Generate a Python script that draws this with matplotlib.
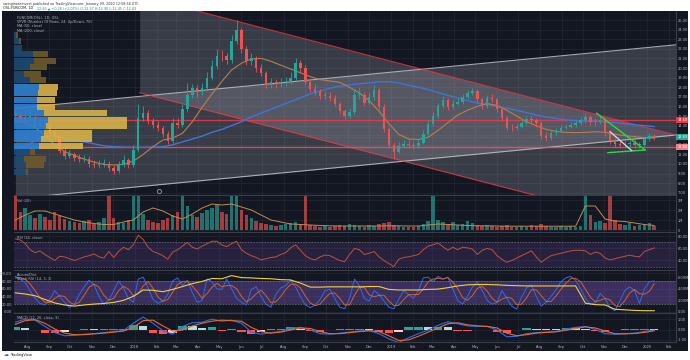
import pandas as pd
import matplotlib
matplotlib.use("Agg")
import matplotlib.pyplot as plt
import matplotlib.dates as mdates
import matplotlib.transforms as mtrans
from matplotlib.ticker import FuncFormatter

plt.rcParams['font.family'] = ['DejaVu Sans']

# === Data (weekly candles, OSL:FUNCOM) ===
weeks = pd.date_range("2017-07-15", periods=131, freq="7D")
weeks2 = weeks[::2]  # smoother lines read every two weeks

opens = [15.3, 15.0, 14.6, 14.9, 14.9, 14.0, 14.5, 13.9, 13.3, 12.9,
         11.4, 10.8, 11.0, 10.6, 10.5, 10.5, 10.0, 9.9, 10.0, 10.0,
         9.6, 9.3, 9.9, 10.4, 9.9, 11.5, 14.8, 15.3, 14.5, 14.1,
         13.7, 13.1, 12.4, 14.3, 14.1, 15.7, 17.2, 17.9, 17.5, 17.9,
         19.0, 20.2, 21.3, 21.2, 20.8, 22.8, 24.0, 22.0, 20.7, 21.0,
         20.0, 19.5, 18.2, 18.5, 18.3, 18.5, 18.5, 19.0, 20.5, 20.0,
         18.5, 17.8, 17.5, 17.1, 17.1, 16.9, 16.3, 15.5, 15.0, 15.4,
         17.2, 17.2, 16.4, 17.0, 17.7, 15.9, 13.6, 12.0, 11.3, 11.9,
         12.1, 12.0, 11.9, 12.2, 13.1, 14.2, 15.0, 16.0, 16.7, 15.9,
         16.3, 16.5, 17.0, 17.4, 17.6, 16.8, 16.0, 16.9, 16.8, 15.7,
         14.8, 13.8, 13.7, 13.9, 14.3, 14.7, 14.6, 14.3, 12.9, 12.7,
         13.2, 13.4, 13.8, 13.9, 14.1, 14.3, 14.6, 14.9, 14.4, 14.4,
         14.6, 13.2, 12.4, 12.1, 12.0, 12.1, 12.2, 12.0, 12.0, 12.6,
         12.9]
highs = [15.8, 15.4, 15.3, 15.4, 15.2, 14.8, 14.8, 14.3, 13.6, 13.2,
         11.9, 11.5, 11.3, 11.0, 10.9, 10.8, 10.4, 10.4, 10.5, 10.3,
         9.9, 10.3, 10.9, 10.6, 12.0, 16.2, 16.0, 15.6, 14.8, 14.5,
         14.0, 13.4, 14.8, 14.8, 16.2, 18.4, 18.3, 18.2, 18.4, 19.6,
         20.8, 22.0, 21.9, 21.6, 23.4, 25.0, 24.2, 22.3, 21.6, 21.2,
         20.4, 19.7, 19.0, 18.9, 19.0, 19.1, 19.6, 21.0, 20.8, 20.3,
         18.8, 18.3, 17.8, 17.6, 17.5, 17.2, 16.5, 15.7, 15.8, 17.8,
         18.0, 17.5, 17.5, 18.2, 17.9, 16.2, 13.9, 12.3, 12.3, 12.5,
         12.5, 12.3, 12.5, 13.5, 14.6, 15.4, 16.4, 17.1, 16.9, 16.7,
         16.9, 17.3, 17.7, 17.9, 17.8, 16.9, 17.2, 17.3, 16.9, 15.9,
         15.0, 14.2, 14.2, 14.6, 15.0, 15.0, 14.8, 14.5, 13.3, 13.5,
         13.7, 14.1, 14.2, 14.4, 14.6, 14.9, 15.3, 15.1, 14.8, 15.0,
         14.8, 13.5, 12.7, 12.4, 12.4, 12.5, 12.5, 12.3, 12.9, 13.2,
         13.1]
lows = [14.6, 14.3, 14.3, 14.5, 13.7, 13.8, 13.6, 13.0, 12.6, 11.1,
        10.5, 10.6, 10.3, 10.2, 10.2, 9.7, 9.6, 9.6, 9.7, 9.3,
        9.0, 9.1, 9.7, 9.6, 9.7, 11.2, 14.5, 14.2, 13.8, 13.4,
        12.8, 12.1, 12.2, 13.8, 13.9, 15.4, 16.9, 17.0, 17.2, 17.6,
        18.8, 19.9, 20.7, 20.4, 20.5, 22.5, 21.6, 20.3, 20.3, 19.6,
        19.2, 17.9, 17.9, 17.9, 18.0, 18.1, 18.3, 18.8, 19.6, 18.2,
        17.5, 17.2, 16.8, 16.8, 16.6, 16.0, 15.2, 14.7, 14.8, 15.2,
        16.8, 16.1, 16.2, 16.7, 15.6, 13.3, 11.7, 10.5, 11.1, 11.7,
        11.7, 11.6, 11.7, 12.1, 13.0, 14.0, 14.8, 15.8, 15.6, 15.7,
        16.1, 16.3, 16.8, 17.2, 16.5, 15.7, 15.8, 16.5, 15.4, 14.5,
        13.5, 13.4, 13.5, 13.7, 14.1, 14.3, 13.9, 12.6, 12.4, 12.5,
        13.0, 13.2, 13.6, 13.7, 13.9, 14.1, 14.3, 14.1, 14.1, 14.2,
        12.9, 12.1, 11.8, 11.7, 11.8, 11.8, 11.7, 11.7, 11.8, 12.4,
        12.5]
closes = [15.0, 14.6, 14.9, 14.9, 14.0, 14.5, 13.9, 13.3, 12.9, 11.4,
          10.8, 11.0, 10.6, 10.5, 10.5, 10.0, 9.9, 10.0, 10.0, 9.6,
          9.3, 9.9, 10.4, 9.9, 11.5, 14.8, 15.3, 14.5, 14.1, 13.7,
          13.1, 12.4, 14.3, 14.1, 15.7, 17.2, 17.9, 17.5, 17.9, 19.0,
          20.2, 21.3, 21.2, 20.8, 22.8, 24.0, 22.0, 20.7, 21.0, 20.0,
          19.5, 18.2, 18.5, 18.3, 18.5, 18.5, 19.0, 20.5, 20.0, 18.5,
          17.8, 17.5, 17.1, 17.1, 16.9, 16.3, 15.5, 15.0, 15.4, 17.2,
          17.2, 16.4, 17.0, 17.7, 15.9, 13.6, 12.0, 11.3, 11.9, 12.1,
          12.0, 11.9, 12.2, 13.1, 14.2, 15.0, 16.0, 16.7, 15.9, 16.3,
          16.5, 17.0, 17.4, 17.6, 16.8, 16.0, 16.9, 16.8, 15.7, 14.8,
          13.8, 13.7, 13.9, 14.3, 14.7, 14.6, 14.3, 12.9, 12.7, 13.2,
          13.4, 13.8, 13.9, 14.1, 14.3, 14.6, 14.9, 14.4, 14.4, 14.6,
          13.2, 12.4, 12.1, 12.0, 12.1, 12.2, 12.0, 12.0, 12.6, 12.9,
          12.83]
volume_m = [3.5, 1.8, 2.2, 1.5, 1.2, 1.6, 1.3, 1.0, 1.8, 1.4,
            1.1, 0.9, 0.8, 0.7, 0.9, 1.0, 0.6, 0.8, 1.2, 3.5,
            1.2, 0.8, 0.7, 1.0, 3.5, 3.5, 1.6, 1.0, 0.8, 0.7,
            1.0, 1.2, 1.5, 1.8, 3.5, 2.4, 1.5, 1.3, 1.7, 2.0,
            2.2, 2.5, 1.8, 1.6, 3.5, 3.5, 2.0, 1.5, 1.2, 0.9,
            0.7, 0.6, 0.5, 0.4, 0.5, 0.6, 0.7, 0.8, 0.6, 3.5,
            0.5, 0.4, 0.3, 0.4, 0.3, 0.4, 0.5, 0.4, 0.6, 0.5,
            0.4, 0.3, 0.5, 0.4, 0.6, 0.7, 0.8, 0.5, 0.4, 0.3,
            0.3, 0.3, 0.4, 0.6, 0.9, 3.5, 1.0, 0.8, 0.6, 0.8,
            0.5, 0.6, 0.9, 0.7, 0.5, 0.4, 0.5, 0.4, 0.3, 0.4,
            0.5, 0.3, 0.3, 0.4, 0.3, 0.5, 0.4, 0.6, 0.4, 0.3,
            0.3, 0.4, 0.3, 0.4, 0.3, 0.4, 3.5, 1.5, 0.8, 0.9,
            0.7, 3.5, 1.0, 0.6, 0.5, 0.7, 0.4, 0.5, 0.6, 0.7,
            0.4]
rsi = [76, 74, 68, 58, 53, 56, 50, 45, 40, 47,
       46, 43, 40, 43, 46, 48, 51, 46, 44, 55,
       45, 55, 62, 58, 66, 82, 75, 62, 55, 52,
       48, 42, 54, 58, 64, 70, 62, 59, 64, 68,
       72, 72, 66, 63, 68, 72, 58, 52, 48, 45,
       41, 43, 45, 46, 50, 53, 61, 66, 57, 48,
       43, 41, 46, 49, 48, 44, 40, 38, 50, 60,
       58, 50, 52, 55, 46, 40, 35, 30, 42, 45,
       46, 48, 50, 58, 64, 66, 69, 63, 57, 62,
       58, 62, 61, 59, 50, 57, 60, 58, 48, 42,
       37, 40, 44, 48, 52, 56, 46, 37, 43, 48,
       50, 52, 54, 56, 57, 57, 56, 50, 54, 52,
       44, 41, 43, 45, 47, 49, 47, 46, 55, 58,
       61]
stoch_k = [92, 85, 75, 55, 35, 22, 18, 32, 55, 40,
           25, 11, 20, 45, 65, 82, 70, 40, 20, 30,
           55, 80, 62, 35, 25, 85, 90, 62, 32, 22,
           28, 45, 80, 88, 68, 82, 50, 25, 30, 85,
           78, 60, 58, 85, 60, 35, 25, 18, 58, 65,
           40, 20, 12, 45, 62, 68, 82, 65, 40, 18,
           11, 18, 32, 55, 58, 35, 12, 8, 35, 85,
           68, 35, 28, 55, 45, 28, 12, 8, 32, 55,
           45, 35, 55, 88, 90, 78, 92, 85, 90, 60,
           30, 20, 40, 65, 78, 55, 30, 20, 24, 55,
           35, 15, 7, 38, 62, 70, 40, 15, 25, 40,
           57, 78, 88, 92, 82, 60, 35, 20, 23, 48,
           35, 10, 3, 28, 55, 65, 55, 22, 60, 78,
           80]
stoch_d = [88, 89, 84, 72, 55, 37, 25, 24, 35, 42,
           40, 25, 19, 25, 43, 64, 72, 64, 43, 30,
           35, 55, 66, 59, 41, 48, 67, 79, 61, 39,
           27, 32, 51, 71, 79, 79, 67, 52, 35, 47,
           64, 74, 65, 68, 68, 60, 40, 26, 34, 47,
           56, 42, 24, 26, 40, 58, 71, 72, 62, 41,
           23, 16, 20, 35, 48, 49, 35, 18, 18, 43,
           63, 63, 44, 39, 43, 43, 28, 16, 17, 32,
           44, 45, 45, 59, 78, 85, 87, 85, 89, 78,
           60, 37, 30, 42, 61, 66, 54, 35, 25, 33,
           38, 35, 19, 20, 36, 57, 57, 42, 27, 27,
           41, 58, 74, 86, 87, 78, 59, 38, 26, 30,
           35, 31, 16, 14, 29, 49, 58, 47, 46, 53,
           73]

sma200 = [11.5, 11.9, 12.4, 12.9, 12.9, 12.7, 12.5, 12.3, 12.1, 11.9,
          11.8, 11.75, 11.74, 11.74, 11.76, 11.8, 12.0, 12.3, 12.6, 12.9,
          13.3, 13.6, 14.0, 14.4, 14.9, 15.3, 15.7, 16.1, 16.5, 16.9,
          17.3, 17.6, 17.9, 18.1, 18.25, 18.35, 18.45, 18.55, 18.58, 18.45,
          18.2, 18.0, 17.75, 17.45, 17.15, 16.9, 16.6, 16.35, 16.2, 16.0,
          15.8, 15.6, 15.35, 15.1, 14.9, 14.75, 14.6, 14.52, 14.48, 14.45,
          14.38, 14.3, 14.2, 14.1, 14.0, 13.9]
sma50 = [14.5, 14.3, 13.8, 13.0, 12.0, 11.3, 10.9, 10.5, 10.2, 9.95,
         9.9, 9.95, 10.3, 11.0, 11.8, 12.5, 12.7, 13.2, 14.4, 15.9,
         17.3, 18.6, 19.8, 20.5, 20.95, 21.0, 20.7, 20.3, 19.9, 19.5,
         19.1, 18.8, 18.65, 18.5, 18.0, 17.4, 16.6, 15.5, 14.2, 13.1,
         12.6, 12.55, 12.8, 13.5, 14.3, 15.1, 15.6, 16.0, 16.3, 16.1,
         15.6, 15.0, 14.4, 14.0, 13.6, 13.4, 13.3, 13.26, 13.3, 13.36,
         13.3, 13.1, 12.95, 12.85, 12.75, 12.7]
vol_ma = [1.0, 1.5, 1.9, 1.9, 1.6, 1.3, 1.0, 0.8, 0.65, 0.55,
          0.55, 0.8, 1.0, 1.8, 2.2, 1.9, 1.4, 1.1, 1.6, 2.2,
          2.6, 2.5, 2.6, 2.3, 2.0, 1.5, 1.0, 0.8, 0.6, 0.55,
          0.5, 0.45, 0.42, 0.4, 0.4, 0.4, 0.4, 0.4, 0.42, 0.42,
          0.4, 0.4, 0.5, 0.6, 0.55, 0.5, 0.45, 0.42, 0.42, 0.4,
          0.38, 0.38, 0.38, 0.38, 0.38, 0.38, 0.38, 0.38, 2.4, 2.4,
          1.1, 0.9, 0.85, 0.7, 0.55, 0.45]
accum_dist = [3.3, 3.1, 2.8, 2.15, 1.55, 1.2, 1.0, 1.2, 1.35, 1.45,
              1.65, 2.0, 2.7, 3.8, 3.75, 3.5, 3.9, 4.4, 4.9, 5.3,
              5.8, 5.75, 6.3, 5.95, 5.9, 5.8, 5.75, 5.6, 5.55, 5.0,
              4.3, 4.3, 4.35, 4.35, 4.35, 4.35, 4.4, 4.4, 3.9, 3.8,
              3.8, 3.8, 3.9, 3.95, 4.2, 4.5, 4.7, 4.75, 4.75, 4.7,
              4.6, 4.55, 4.5, 4.5, 4.5, 4.5, 4.5, 4.5, 1.5, 1.25,
              1.2, 0.45, 0.35, 0.25, 0.2, 0.2]
macd_line = [0.7, 1.0, 0.9, 0.3, -0.3, -0.6, -0.55, -0.45, -0.4, -0.3,
             -0.2, -0.1, 0.6, 1.2, 0.6, -0.1, -0.45, 0.3, 0.65, 0.7,
             1.0, 0.8, 0.9, 0.6, -0.25, -0.45, -0.3, -0.2, 0.15, 0.2,
             -0.05, -0.4, -0.45, -0.35, -0.25, -0.15, -0.1, -0.4, -0.9, -1.25,
             -0.8, -0.4, -0.05, 0.4, 0.75, 0.55, 0.35, 0.3, 0.3, -0.05,
             -0.7, -0.65, -0.4, -0.3, -0.25, -0.2, 0.05, 0.2, 0.3, 0.0,
             -0.4, -0.45, -0.4, -0.35, -0.2, -0.05]
macd_signal = [0.5, 0.85, 0.95, 0.6, 0.05, -0.35, -0.5, -0.5, -0.42, -0.35,
               -0.25, -0.15, 0.2, 0.85, 0.9, 0.35, -0.15, -0.05, 0.35, 0.6,
               0.8, 0.9, 0.85, 0.8, 0.2, -0.2, -0.35, -0.25, -0.05, 0.15,
               0.1, -0.2, -0.4, -0.4, -0.3, -0.2, -0.12, -0.2, -0.6, -1.05,
               -1.0, -0.65, -0.25, 0.15, 0.55, 0.65, 0.45, 0.35, 0.3, 0.15,
               -0.35, -0.6, -0.5, -0.35, -0.28, -0.22, -0.08, 0.1, 0.25, 0.15,
               -0.15, -0.4, -0.42, -0.38, -0.28, -0.12]
macd_hist = [0.2, 0.15, -0.05, -0.3, -0.35, -0.25, -0.05, 0.05, 0.02, 0.05,
             0.05, 0.05, 0.4, 0.35, -0.3, -0.45, -0.3, 0.35, 0.3, 0.1,
             0.2, -0.1, 0.05, -0.2, -0.45, -0.25, 0.05, 0.05, 0.2, 0.05,
             -0.15, -0.2, -0.05, 0.05, 0.05, 0.05, 0.02, -0.2, -0.3, -0.2,
             0.2, 0.25, 0.2, 0.25, 0.2, -0.1, -0.1, -0.05, 0.0, -0.2,
             -0.35, -0.05, 0.1, 0.05, 0.03, 0.02, 0.13, 0.1, 0.05, -0.15,
             -0.25, -0.05, 0.02, 0.03, 0.08, 0.07]

# volume profile (VPVR), rows from the bottom price bin up
vp_bottom = 8.85
vp_step = 0.68
vp_up = [11.9, 11.9, 9.7, 16.3, 25.0, 27.3, 29.5, 31.7, 33.9, 29.5, 22.9,
         22.9, 24.2, 25.1, 16.3, 9.7, 16.3, 19.8, 18.5, 7.5, 5.3, 2.2]
vp_down = [2.2, 17.6, 22.0, 4.4, 44.0, 50.7, 48.5, 81.5, 79.3, 63.9, 17.6,
           17.6, 18.5, 18.9, 15.4, 17.6, 16.7, 22.0, 15.4, 0.5, 2.2, 1.8]
vp_value_area = (4, 13)

# drawn levels and trend channels
level_hi = 14.60
level_lo = 11.80
desc_dates = pd.to_datetime(["2018-01-08", "2020-02-11"])
desc_top = [27.5, 13.0]
desc_bot = [17.43, 2.93]
asc_dates = pd.to_datetime(["2017-07-15", "2020-02-11"])
asc_top = [15.8, 22.42]
asc_bot = [6.40, 13.02]
wedge_top = (pd.to_datetime(["2019-10-21", "2019-12-29"]), [15.28, 11.46])
wedge_bot = (pd.to_datetime(["2019-11-06", "2019-12-29"]), [11.18, 11.46])
wedge_mid = (pd.to_datetime(["2019-11-09", "2019-12-10"]), [13.36, 11.39])

# === Style ===
BG = '#131722'
GRID = '#232733'
TXT = '#b2b5be'
UP = '#26a69a'
DOWN = '#ef5350'
SEP = '#3a3e4a'

fig = plt.figure(figsize=(6.9, 3.6), dpi=100, facecolor='white')
fig.patches.append(plt.Rectangle((2 / 690, 9 / 360), 686 / 690, 340 / 360,
                                 transform=fig.transFigure, facecolor=BG,
                                 edgecolor='none', zorder=-10))


def pane(top, bottom, share=None):
    ax = fig.add_axes([14 / 690, 1 - bottom / 360, 662 / 690, (bottom - top) / 360],
                      sharex=share)
    ax.set_facecolor(BG)
    ax.spines['left'].set_visible(False)
    ax.spines['top'].set_visible(False)
    for s in ['right', 'bottom']:
        ax.spines[s].set_color(SEP)
        ax.spines[s].set_linewidth(0.8)
    ax.yaxis.tick_right()
    ax.tick_params(axis='both', length=0, labelsize=2.6, labelcolor=TXT, pad=1.5)
    ax.grid(True, color=GRID, lw=0.5)
    ax.set_axisbelow(True)
    return ax


ax_p = pane(11, 195)
ax_v = pane(196, 232, ax_p)
ax_r = pane(233, 270, ax_p)
ax_s = pane(271, 313, ax_p)
ax_m = pane(314, 342, ax_p)

# --- price pane ---
ax_p.fill_between(asc_dates, asc_bot, asc_top, color='#b2b5be', alpha=0.24, lw=0, zorder=1)
ax_p.fill_between(desc_dates, desc_bot, desc_top, color='#b2b5be', alpha=0.24, lw=0, zorder=1)
ax_p.plot(asc_dates, asc_top, color='#c8cad0', lw=0.8, alpha=0.8, zorder=2)
ax_p.plot(asc_dates, asc_bot, color='#c8cad0', lw=0.8, alpha=0.8, zorder=2)
ax_p.plot(desc_dates, desc_top, color='#f23645', lw=0.8, alpha=0.8, zorder=2)
ax_p.plot(desc_dates, desc_bot, color='#f23645', lw=0.8, alpha=0.8, zorder=2)

ax_p.axhline(level_hi, color='#f23645', lw=1.0, alpha=0.85, zorder=3)
ax_p.axhline(level_lo, color='#f7525f', lw=1.0, alpha=0.8, zorder=3)
ax_p.axhline(closes[-1], color=UP, lw=0.5, ls=':', alpha=0.6, zorder=3)

ax_p.plot(weeks2, sma200, color='#3f74d8', lw=1.0, zorder=4)
ax_p.plot(weeks2, sma50, color='#b5804e', lw=0.8, zorder=4)

cols = [UP if c >= o else DOWN for o, c in zip(opens, closes)]
body_lo = [min(o, c) for o, c in zip(opens, closes)]
body_h = [max(abs(c - o), 0.08) for o, c in zip(opens, closes)]
ax_p.vlines(weeks, lows, highs, colors=cols, lw=0.6, zorder=5)
ax_p.bar(weeks, body_h, bottom=body_lo, width=3.5, color=cols, lw=0, zorder=6)

for (dx, dy), c in [(wedge_top, '#22e040'), (wedge_bot, '#22e040'), (wedge_mid, '#d1d4dc')]:
    ax_p.plot(dx, dy, color=c, lw=1.0, zorder=7)

ax_p.plot(pd.Timestamp("2018-02-05"), 7.22, marker='o', ms=3, mfc='none',
          mec=TXT, mew=0.5, zorder=7)

ax_p.set_ylim(6.77, 25.94)
ax_p.set_yticks(range(7, 26))
ax_p.yaxis.set_major_formatter(FuncFormatter(lambda v, p: f"{v:.2f}"))

# volume profile on a twin axis anchored to the left edge
ax_vp = ax_p.twiny()
ax_vp.set_xlim(0, 662)
ax_vp.axis('off')
for k, (u, d) in enumerate(zip(vp_up, vp_down)):
    inside = vp_value_area[0] <= k <= vp_value_area[1]
    yc = vp_bottom + vp_step * (k + 0.5)
    ax_vp.barh(yc, u, left=0, height=vp_step * 0.92,
               color='#2f80d1' if inside else '#1f4a74', alpha=0.9, lw=0)
    ax_vp.barh(yc, d, left=u, height=vp_step * 0.92,
               color='#d8b24a' if inside else '#6d5a2c', alpha=0.9, lw=0)
ax_vp.set_ylim(6.77, 25.94)

trans = mtrans.blended_transform_factory(ax_p.transAxes, ax_p.transData)
for val, fc in [(level_hi, '#f23645'), (closes[-1], UP), (level_lo, '#f77c80')]:
    ax_p.text(1.002, val, f"{val:.2f}", transform=trans, fontsize=2.6, color='white',
              va='center', ha='left', zorder=10,
              bbox=dict(boxstyle='square,pad=0.25', fc=fc, ec='none'))

legend = ["FUNCOM(OSL), 1D, OSL", "VPVR (Number Of Rows, 24, Up/Down, 70)",
          "MA (50, close)", "MA (200, close)"]
for j, t in enumerate(legend):
    ax_p.text(0.005, 0.975 - j * 0.024, t, transform=ax_p.transAxes, fontsize=2.5,
              color=TXT, va='top', ha='left', zorder=11)

# --- volume pane ---
vcols = [UP if c >= o else DOWN for o, c in zip(opens, closes)]
ax_v.bar(weeks, volume_m, width=5.0, color=vcols, alpha=0.65, lw=0)
ax_v.plot(weeks2, vol_ma, color='#c48a52', lw=0.7)
ax_v.set_ylim(-0.2, 3.4)
ax_v.set_yticks([0, 1, 2, 3])
ax_v.set_yticklabels(["0", "1M", "2M", "3M"])
ax_v.text(0.005, 0.93, "Vol (20)", transform=ax_v.transAxes, fontsize=2.5,
          color=TXT, va='top')

# --- RSI pane ---
ax_r.axhspan(30, 70, color='#7e57c2', alpha=0.18, lw=0)
for lvl in (30, 70):
    ax_r.axhline(lvl, color='#787b86', lw=0.5, ls=(0, (2, 2)))
ax_r.plot(weeks, rsi, color='#c0503a', lw=0.7)
ax_r.set_ylim(24.2, 85.7)
ax_r.set_yticks([40, 60, 80])
ax_r.yaxis.set_major_formatter(FuncFormatter(lambda v, p: f"{v:.2f}"))
ax_r.text(0.005, 0.93, "RSI (14, close)", transform=ax_r.transAxes, fontsize=2.5,
          color=TXT, va='top')

# --- Stoch RSI + Accum/Dist pane ---
ax_s.axhspan(20, 80, color='#7e57c2', alpha=0.38, lw=0)
for lvl in (20, 80):
    ax_s.axhline(lvl, color='#787b86', lw=0.5, ls=(0, (2, 2)))
ax_s.plot(weeks, stoch_k, color='#2e6bf0', lw=0.7)
ax_s.plot(weeks, stoch_d, color='#e86a2a', lw=0.7, alpha=0.85)
ax_s.set_ylim(-3, 106)
ax_s.set_yticks([0, 20, 40, 60, 80, 100])
ax_s.yaxis.tick_left()
ax_s.yaxis.set_major_formatter(FuncFormatter(lambda v, p: f"{v:.2f}"))
ax_ad = ax_s.twinx()
ax_ad.plot(weeks2, accum_dist, color='#f2d035', lw=0.8)
ax_ad.set_ylim(-0.2, 7.1)
ax_ad.set_yticks([0, 2, 4, 6])
ax_ad.set_yticklabels(["0.00", "2.00M", "4.00M", "6.00M"])
ax_ad.tick_params(axis='y', length=0, labelsize=2.6, labelcolor=TXT, pad=1.5)
for s in ['left', 'top']:
    ax_ad.spines[s].set_visible(False)
ax_ad.spines['right'].set_color(SEP)
ax_ad.spines['bottom'].set_color(SEP)
ax_s.text(0.005, 0.95, "Accum/Dist", transform=ax_s.transAxes, fontsize=2.5,
          color=TXT, va='top')
ax_s.text(0.005, 0.86, "Stoch RSI (14, 3, 3)", transform=ax_s.transAxes, fontsize=2.5,
          color=TXT, va='top')

# --- MACD pane ---
hist_cols = []
prev = 0.0
for h in macd_hist:
    if h >= 0:
        hist_cols.append('#26a69a' if h >= prev else '#b2dfdb')
    else:
        hist_cols.append('#ff5252' if h <= prev else '#ffcdd2')
    prev = h
ax_m.bar(weeks2, macd_hist, width=12, color=hist_cols, lw=0)
ax_m.plot(weeks2, macd_line, color='#2e6bf0', lw=0.8)
ax_m.plot(weeks2, macd_signal, color='#e86a2a', lw=0.8)
ax_m.set_ylim(-1.2, 1.49)
ax_m.set_yticks([-1, 0, 1])
ax_m.yaxis.set_major_formatter(FuncFormatter(lambda v, p: f"{v:.2f}"))
ax_m.text(0.005, 0.92, "MACD (12, 26, close, 9)", transform=ax_m.transAxes,
          fontsize=2.5, color=TXT, va='top')

# --- shared time axis ---
ax_p.set_xlim(pd.Timestamp("2017-07-13"), pd.Timestamp("2020-02-11"))
ax_m.xaxis.set_major_locator(mdates.MonthLocator())


def month_fmt(x, pos):
    d = mdates.num2date(x)
    return str(d.year) if d.month == 1 else d.strftime('%b')


ax_m.xaxis.set_major_formatter(FuncFormatter(month_fmt))
for ax in (ax_p, ax_v, ax_r, ax_s):
    ax.tick_params(labelbottom=False)
ax_m.tick_params(axis='x', labelsize=2.6, pad=2)

# --- header and footer ---
fig.text(3 / 690, 1 - 3.5 / 360,
         "swingtradeinvest published on TradingView.com, January 09, 2020 12:58:56 UTC",
         fontsize=2.4, color='#333333', va='center', ha='left')
fig.text(3 / 690, 1 - 8.2 / 360, "OSL:FUNCOM, 1D", fontsize=2.4, color='#131722',
         va='center', ha='left')
fig.text(37 / 690, 1 - 8.2 / 360,
         "12.83 \u25b2 +0.26 (+2.07%) O:12.57 H:12.90 L:12.45 C:12.83",
         fontsize=2.4, color='#089981', va='center', ha='left')
fig.text(4 / 690, 1 - 355 / 360, "\u2601", fontsize=3.5, color='#2962ff',
         va='center', ha='left')
fig.text(10 / 690, 1 - 355 / 360, "TradingView", fontsize=2.6, color='#131722',
         va='center', ha='left')

fig.savefig("out.png", dpi=100, facecolor='white')
